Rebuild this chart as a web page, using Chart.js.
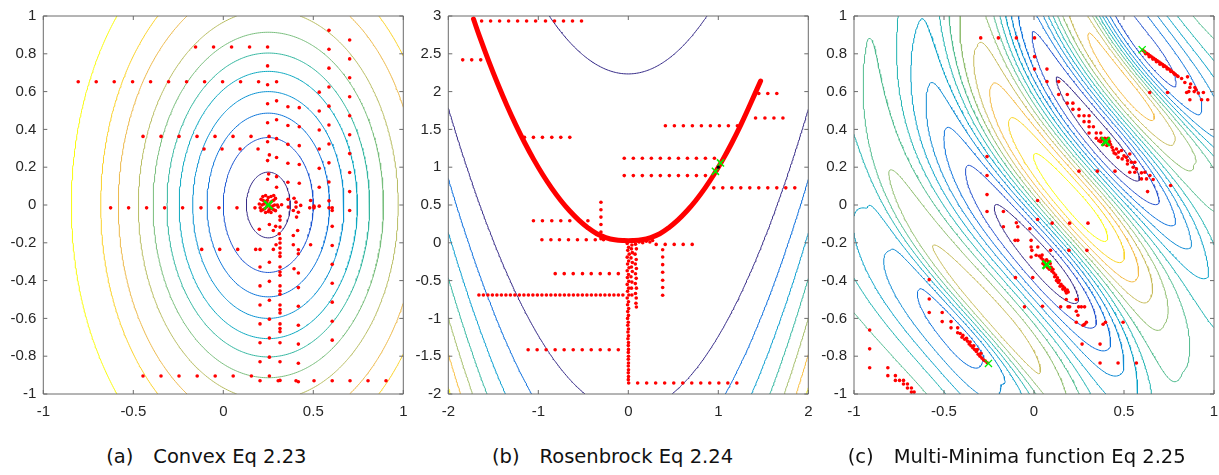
<!DOCTYPE html>
<html>
<head>
<meta charset="utf-8">
<title>Optimiser traces on three test functions</title>
<script src="https://cdn.jsdelivr.net/npm/chart.js@4.4.1/dist/chart.umd.min.js"></script>
<style>
  html, body { margin: 0; padding: 0; background: #fff; overflow: hidden; }
  #wrap { position: relative; width: 1219px; height: 475px; }
  #wrap canvas { position: absolute; top: 0; }
  .caption {
    position: absolute; top: 445.5px; transform: translateX(-50%);
    font: 19.5px "DejaVu Sans", sans-serif; line-height: 22px; color: #111; white-space: pre;
  }
  .caption .tag { margin-right: 20px; }
</style>
</head>
<body>
<div id="wrap">
  <canvas id="convex" width="426" height="425" style="left:0px"></canvas>
  <canvas id="rosen" width="425" height="425" style="left:405px"></canvas>
  <canvas id="wave" width="420" height="425" style="left:810px"></canvas>
  <div class="caption" id="cap0" style="left:206.3px"></div>
  <div class="caption" id="cap1" style="left:612.5px"></div>
  <div class="caption" id="cap2" style="left:1016.7px"></div>
</div>
<script>
// ---------- text and ticks ----------
const captionTags = ['(a)', '(b)', '(c)'];
const captionTexts = ['Convex Eq 2.23', 'Rosenbrock Eq 2.24', 'Multi-Minima function Eq 2.25'];
const unitTicksX = [-1, -0.5, 0, 0.5, 1];
const unitTicksY = [-1, -0.8, -0.6, -0.4, -0.2, 0, 0.2, 0.4, 0.6, 0.8, 1];
const rosenTicksX = [-2, -1, 0, 1, 2];
const rosenTicksY = [-2, -1.5, -1, -0.5, 0, 0.5, 1, 1.5, 2, 2.5, 3];

// ---------- (a) convex bowl ----------
const convexCentre = [0.25, 0];
const convexAspect = 0.7;   // x half-axis over y half-axis
const convexLevels = [0.174, 0.357, 0.486, 0.6, 0.707, 0.804, 0.914, 1.031, 1.19, 1.33, 1.563];
const convexBest = [[0.25, 0.0]];
const convexDots = [
  [-0.154,0.836],[-0.054,0.836],[0.046,0.836],[0.146,0.836],[0.246,0.836],[0.246,0.736],
  [-0.806,0.652],[-0.706,0.652],[-0.606,0.652],[-0.504,0.652],[-0.404,0.652],[-0.304,0.652],
  [-0.204,0.652],[-0.104,0.652],[-0.004,0.652],[0.096,0.652],[0.196,0.652],[0.296,0.652],[0.246,0.636],
  [-0.446,0.363],[-0.346,0.363],[-0.246,0.363],[-0.146,0.363],[-0.046,0.363],[0.054,0.363],[0.154,0.363],[0.254,0.363],
  [-0.107,0.296],[-0.007,0.296],[0.093,0.296],[0.193,0.296],
  [0.246,0.536],[0.246,0.435],[0.246,0.335],[0.256,0.265],[0.246,0.235],[0.252,0.164],[0.246,0.136],
  [0.296,0.551],[0.296,0.451],[0.296,0.351],[0.296,0.251],[0.296,0.15],[0.296,0.094],
  [0.359,0.52],[0.359,0.421],[0.359,0.321],[0.359,0.221],[0.359,0.12],
  [0.422,0.515],[0.422,0.414],[0.422,0.314],[0.422,0.214],[0.422,0.115],
  [0.533,0.597],[0.533,0.497],[0.533,0.397],[0.533,0.296],[0.533,0.194],[0.533,0.094],
  [0.587,0.924],[0.587,0.824],[0.587,0.724],[0.587,0.624],[0.587,0.523],[0.587,0.423],[0.587,0.323],[0.587,0.223],[0.587,0.122],[0.587,0.022],
  [0.702,0.873],[0.702,0.773],[0.702,0.673],[0.702,0.573],[0.702,0.472],[0.702,0.372],[0.702,0.272],[0.702,0.172],[0.702,0.071],[0.702,-0.029],
  [-0.626,-0.015],[-0.526,-0.015],[-0.426,-0.015],[-0.326,-0.015],[-0.226,-0.015],[-0.124,-0.015],[-0.024,-0.015],[0.076,-0.015],[0.176,-0.015],
  [0.324,0.001],[0.361,-0.011],[0.404,-0.011],[0.404,0.015],[0.43,-0.002],[0.48,-0.015],[0.504,-0.015],[0.504,-0.006],
  [0.533,-0.006],[0.587,-0.015],[0.605,-0.015],[0.605,-0.029],[0.389,-0.029],[0.417,-0.038],[0.407,-0.064],[0.485,0.024],[0.393,0.036],[0.36,0.03],
  [0.2,-0.128],[0.256,-0.103],[0.278,-0.135],[0.291,-0.113],[0.315,-0.117],[0.311,-0.152],[0.315,-0.178],[0.293,-0.21],[0.315,-0.201],
  [0.389,-0.161],[0.413,-0.135],[0.389,-0.21],[0.417,-0.237],[0.485,-0.21],[0.315,-0.06],[0.315,-0.08],
  [-0.12,-0.235],[-0.02,-0.235],[0.08,-0.235],[0.18,-0.235],[0.204,-0.235],[0.278,-0.235],
  [0.315,-0.228],[0.315,-0.254],[0.315,-0.272],[0.315,-0.328],[0.315,-0.355],[0.315,-0.372],[0.315,-0.428],[0.315,-0.455],[0.315,-0.472],
  [0.315,-0.529],[0.315,-0.553],[0.315,-0.571],[0.315,-0.629],[0.315,-0.654],[0.315,-0.671],[0.315,-0.729],[0.315,-0.829],
  [0.256,-0.303],[0.256,-0.404],[0.256,-0.504],[0.256,-0.604],[0.256,-0.704],[0.256,-0.805],
  [0.204,-0.328],[0.204,-0.428],[0.204,-0.529],[0.204,-0.629],[0.204,-0.729],[0.204,-0.829],
  [0.417,-0.258],[0.417,-0.36],[0.417,-0.437],[0.417,-0.536],[0.417,-0.636],[0.417,-0.736],[0.417,-0.837],[0.393,-0.337],
  [0.605,-0.113],[0.605,-0.214],[0.605,-0.314],[0.605,-0.414],[0.605,-0.514],[0.605,-0.615],[0.605,-0.715],
  [-0.446,-0.905],[-0.346,-0.905],[-0.246,-0.905],[-0.145,-0.905],[-0.045,-0.905],[0.055,-0.905],[0.156,-0.905],[0.256,-0.905],
  [0.204,-0.93],[0.305,-0.93],[0.315,-0.928],[0.404,-0.93],[0.417,-0.935],[0.504,-0.93],[0.605,-0.93],[0.704,-0.93],[0.804,-0.93],[0.904,-0.93],
  [0.21,0.03],[0.22,0.025],[0.23,0.02],[0.24,0.01],[0.26,0.01],[0.27,0.02],[0.28,0.025],[0.29,0.035],
  [0.21,-0.03],[0.22,-0.025],[0.23,-0.02],[0.24,-0.01],[0.26,-0.01],[0.27,-0.02],[0.28,-0.025],[0.29,-0.03],
  [0.215,0.0],[0.225,0.005],[0.275,-0.005],[0.285,0.0],[0.25,0.04],[0.25,-0.035],[0.245,0.025],[0.255,-0.025],
  [0.2,0.005],[0.3,0.0],[0.235,0.05],[0.265,0.045],[0.235,-0.04],[0.265,-0.04],[0.205,-0.015],[0.305,-0.01],[0.22,0.045],[0.28,0.05]
];

// ---------- (b) Rosenbrock ----------
const rosenLevels = [500, 1000, 1500, 2000, 2500, 3000, 3500];
const rosenPathX = [-1.72, -1.65, -1.55, -1.45, -1.35, -1.25, -1.15, -1.05, -0.95, -0.85, -0.75, -0.65, -0.55, -0.45, -0.35, -0.25,
  -0.15, -0.05, 0.05, 0.15, 0.25, 0.35, 0.45, 0.55, 0.65, 0.75, 0.85, 0.95, 1.05, 1.15, 1.25, 1.35, 1.47];
const rosenPathY = [2.96, 2.72, 2.40, 2.10, 1.82, 1.56, 1.32, 1.10, 0.90, 0.72, 0.56, 0.42, 0.30, 0.20, 0.12, 0.07,
  0.04, 0.03, 0.03, 0.04, 0.07, 0.12, 0.20, 0.30, 0.42, 0.56, 0.72, 0.90, 1.10, 1.32, 1.56, 1.82, 2.14];
const rosenBest = [[0.968, 0.946], [1.024, 1.056]];
const rosenTrue = [[1.0, 1.0]];
const rosenDots = [
  [-1.63,2.934],[-1.53,2.934],[-1.43,2.934],[-1.33,2.934],[-1.23,2.934],[-1.13,2.934],[-1.03,2.934],[-0.92,2.934],[-0.82,2.934],[-0.72,2.934],[-0.62,2.934],[-0.52,2.934],
  [-1.84,2.42],[-1.74,2.42],[-1.64,2.42],
  [-1.154,1.395],[-1.054,1.395],[-0.954,1.395],[-0.85,1.395],[-0.75,1.395],[-0.65,1.395],
  [-0.045,1.118],[0.056,1.118],[0.156,1.118],[0.256,1.118],[0.356,1.118],[0.456,1.118],[0.557,1.118],[0.657,1.118],[0.757,1.118],[0.857,1.118],[0.957,1.118],
  [-0.045,0.889],[0.056,0.889],[0.156,0.889],[0.256,0.889],[0.356,0.889],[0.456,0.889],[0.557,0.889],[0.657,0.889],[0.757,0.889],[0.857,0.889],
  [0.95,0.727],[1.05,0.727],[1.15,0.727],[1.25,0.727],[1.35,0.727],[1.45,0.727],[1.55,0.727],[1.65,0.727],[1.75,0.727],[1.85,0.727],
  [0.412,1.549],[0.512,1.549],[0.612,1.549],[0.712,1.549],[0.812,1.549],[0.912,1.549],[1.012,1.549],[1.112,1.549],[1.212,1.549],
  [1.414,1.65],[1.518,1.65],[1.618,1.65],[1.718,1.65],
  [1.45,1.975],[1.55,1.975],[1.65,1.975],
  [-1.054,0.291],[-0.954,0.291],[-0.85,0.291],[-0.75,0.291],[-0.65,0.291],[-0.549,0.291],[-0.449,0.291],
  [-0.304,0.537],[-0.304,0.437],[-0.304,0.34],[-0.304,0.243],[-0.304,0.142],[-0.304,0.055],
  [-0.96,0.041],[-0.86,0.041],[-0.765,0.041],[-0.665,0.041],[-0.565,0.041],[-0.467,0.041],[-0.367,0.041],[-0.275,0.041],
  [0.31,-0.021],[0.41,-0.021],[0.51,-0.021],[0.61,-0.021],[0.71,-0.021],
  [0.382,-0.091],[0.382,-0.188],[0.382,-0.289],[0.382,-0.39],[0.382,-0.496],[0.382,-0.592],[0.382,-0.694],
  [-0.812,-0.408],[-0.712,-0.408],[-0.612,-0.408],[-0.509,-0.408],[-0.412,-0.408],[-0.312,-0.408],[-0.211,-0.408],[-0.111,-0.408],
  [-1.66,-0.69],[-1.61,-0.69],[-1.56,-0.69],[-1.51,-0.69],[-1.46,-0.69],[-1.41,-0.69],[-1.36,-0.69],[-1.31,-0.69],[-1.26,-0.69],
  [-1.21,-0.69],[-1.16,-0.69],[-1.11,-0.69],[-1.06,-0.69],[-1.01,-0.69],[-0.96,-0.69],[-0.91,-0.69],[-0.86,-0.69],[-0.81,-0.69],
  [-0.76,-0.69],[-0.71,-0.69],[-0.66,-0.69],[-0.61,-0.69],[-0.56,-0.69],[-0.51,-0.69],[-0.46,-0.69],[-0.41,-0.69],[-0.36,-0.69],
  [-0.31,-0.69],[-0.26,-0.69],[-0.21,-0.69],[-0.16,-0.69],[-0.11,-0.69],[-0.06,-0.69],
  [-1.113,-1.415],[-1.013,-1.415],[-0.913,-1.415],[-0.813,-1.415],[-0.713,-1.415],[-0.612,-1.415],[-0.512,-1.415],[-0.412,-1.415],[-0.312,-1.415],[-0.212,-1.415],[-0.111,-1.415],
  [0.004,-1.855],[0.104,-1.855],[0.204,-1.855],[0.304,-1.855],[0.404,-1.855],[0.505,-1.855],[0.605,-1.855],[0.705,-1.855],[0.805,-1.855],[0.905,-1.855],[1.006,-1.855],[1.106,-1.855],[1.206,-1.855],
  [-0.012,-0.01],[0.004,-0.06],[-0.006,-0.1],[0.01,-0.15],[-0.012,-0.19],[0.004,-0.24],[-0.008,-0.28],[0.008,-0.33],[-0.012,-0.37],[0.002,-0.42],
  [-0.01,-0.46],[0.006,-0.51],[-0.012,-0.55],[0.004,-0.6],[-0.008,-0.64],[0.006,-0.69],[-0.012,-0.73],[0.002,-0.78],[-0.008,-0.82],[0.004,-0.87],
  [-0.006,-0.91],[0.002,-0.96],[-0.008,-1.0],[0.0,-1.05],[-0.006,-1.09],[0.002,-1.14],[-0.004,-1.18],[0.002,-1.23],[-0.004,-1.27],[0.002,-1.32],
  [0.0,-1.36],[0.002,-1.41],[0.0,-1.45],[0.002,-1.5],[0.0,-1.54],[0.002,-1.59],[0.0,-1.63],[0.002,-1.68],[0.0,-1.72],[0.002,-1.77],[0.0,-1.81],
  [0.08,-0.02],[0.09,-0.08],[0.075,-0.15],[0.088,-0.22],[0.078,-0.28],[0.09,-0.34],[0.08,-0.41],[0.088,-0.47],[0.078,-0.54],[0.09,-0.6],
  [0.08,-0.67],[0.088,-0.73],[0.085,-0.8],[0.09,-0.85],
  [0.04,-0.03],[0.035,-0.08],[0.045,-0.13],[0.03,-0.2],[0.045,-0.26],[0.035,-0.32],[0.045,-0.38],[0.03,-0.45],[0.04,-0.52],[0.035,-0.6],[0.04,-0.69],
  [0.12,0.01],[0.16,0.0],[0.2,0.02],[0.24,0.01],[0.27,0.03]
];

// ---------- (c) multi-minima ----------
// ridges and valleys run across the normal direction; each row describes one crest or trough
const waveCentre = [0.25, -0.015];
const waveNormal = [0.731, 0.683];
const waveBend = 0.16;           // crests turn steeper away from the middle
const waveSkew = [1.3, 0.8];     // reach towards upper-left, towards lower-right
const stripeAt = [-1.35, -0.944, -0.742, -0.336, 0.0, 0.347, 0.626, 0.828, 1.2];
const stripeAmp = [0.12, -0.65, 0.5, -1.0, 1.0, -1.0, 0.66, -0.8, 0.12];
const stripeShift = [0.2, 0.03, 0.149, 0.098, 0.0, -0.15, -0.28, -0.345, -0.45];
const stripeLen = [1.1, 0.64, 0.91, 0.92, 0.81, 0.95, 0.68, 0.93, 1.0];
const waveLevels = [-0.88, -0.72, -0.56, -0.4, -0.24, -0.08, 0.08, 0.24, 0.4, 0.56, 0.72, 0.88];
const waveBestBold = [[0.071, -0.316], [0.398, 0.335]];
const waveBestThin = [[-0.253, -0.838], [0.601, 0.822]];
const waveDots = [
  [-0.296,0.884],[-0.198,0.884],[-0.098,0.884],[0.003,0.884],[0.003,0.785],[0.003,0.719],
  [0.072,0.719],[0.072,0.653],[0.137,0.653],[0.137,0.585],[0.185,0.585],[0.185,0.539],[0.216,0.539],[0.216,0.506],
  [0.25,0.506],[0.25,0.472],[0.278,0.472],[0.306,0.472],[0.278,0.441],[0.306,0.441],[0.306,0.414],[0.33,0.414],
  [0.306,0.381],[0.346,0.381],[0.371,0.381],[0.346,0.353],[0.374,0.353],[0.393,0.353],[0.411,0.353],
  [0.36,0.34],[0.37,0.335],[0.38,0.345],[0.39,0.33],[0.4,0.34],[0.41,0.325],[0.42,0.335],[0.385,0.32],[0.405,0.315],[0.415,0.345],[0.395,0.35],[0.425,0.32],
  [0.434,0.305],[0.445,0.275],[0.458,0.296],[0.486,0.288],[0.467,0.252],[0.49,0.244],[0.513,0.252],[0.532,0.27],[0.541,0.226],
  [0.519,0.217],[0.56,0.226],[0.551,0.2],[0.569,0.191],[0.532,0.173],[0.56,0.173],[0.597,0.17],[0.616,0.173],[0.644,0.156],
  [0.625,0.138],[0.597,0.138],[0.662,0.135],[0.631,0.071],[0.759,0.103],[0.25,0.179],[0.352,0.179],[0.45,0.179],
  [0.44,0.29],[0.455,0.27],[0.47,0.28],[0.5,0.26],[0.52,0.235],
  [0.605,0.818],[0.615,0.81],[0.625,0.803],[0.635,0.797],[0.645,0.79],[0.655,0.783],[0.665,0.776],[0.675,0.77],[0.685,0.763],[0.695,0.757],
  [0.705,0.75],[0.715,0.743],[0.725,0.737],[0.735,0.73],[0.745,0.722],[0.755,0.715],[0.765,0.708],[0.775,0.7],[0.785,0.692],[0.795,0.684],
  [0.62,0.8],[0.64,0.785],[0.66,0.772],[0.68,0.758],[0.7,0.745],[0.72,0.733],[0.74,0.72],[0.76,0.706],[0.78,0.693],[0.8,0.68],
  [0.82,0.669],[0.853,0.678],[0.838,0.648],[0.866,0.622],[0.894,0.622],[0.848,0.595],[0.913,0.592],[0.941,0.595],
  [0.866,0.557],[0.931,0.557],[0.965,0.557],[0.643,0.595],[0.742,0.595],[0.86,0.6],[0.89,0.6],[0.87,0.64],[0.9,0.61],
  [-0.261,0.256],[-0.261,0.156],[-0.261,0.055],[-0.261,-0.034],[-0.17,-0.034],[-0.17,-0.115],[-0.098,-0.094],[-0.09,-0.115],
  [-0.023,-0.126],[-0.105,-0.187],[-0.09,-0.187],[-0.016,-0.187],[-0.016,-0.222],[-0.012,-0.24],[-0.016,-0.275],
  [-0.103,-0.384],[-0.007,-0.384],[-0.053,-0.539],[0.02,0.024],[0.02,-0.077],
  [0.101,-0.096],[0.198,-0.096],[0.3,-0.096],[0.092,-0.24],[0.194,-0.24],[0.294,-0.24],
  [0.04,-0.28],[0.05,-0.29],[0.06,-0.3],[0.07,-0.29],[0.08,-0.3],[0.09,-0.31],[0.06,-0.32],[0.075,-0.33],[0.05,-0.31],[0.085,-0.34],
  [0.095,-0.33],[0.03,-0.27],[0.045,-0.265],[0.1,-0.35],[0.11,-0.36],[0.105,-0.34],[0.12,-0.37],[0.115,-0.38],[0.13,-0.385],[0.125,-0.4],
  [0.14,-0.4],[0.135,-0.41],[0.15,-0.42],[0.145,-0.43],[0.16,-0.43],[0.16,-0.445],[0.17,-0.44],[0.175,-0.455],[0.185,-0.45],[0.18,-0.465],
  [0.19,-0.46],[0.021,-0.222],[0.012,-0.266],
  [0.179,-0.5],[0.235,-0.5],[0.148,-0.539],[0.189,-0.539],[0.198,-0.539],[0.248,-0.539],[0.263,-0.539],[0.281,-0.539],
  [0.235,-0.562],[0.244,-0.583],[0.235,-0.62],[0.272,-0.636],[0.281,-0.631],[0.291,-0.62],[0.384,-0.631],[0.397,-0.62],[0.495,-0.62],
  [0.047,-0.536],[0.267,-0.736],[0.367,-0.736],[0.367,-0.836],[0.467,-0.836],[0.569,-0.836],
  [-0.582,-0.395],[-0.582,-0.497],[-0.582,-0.569],[-0.51,-0.569],[-0.51,-0.617],[-0.461,-0.617],[-0.461,-0.65],[-0.424,-0.65],[-0.424,-0.676],
  [-0.41,-0.68],[-0.4,-0.7],[-0.385,-0.71],[-0.37,-0.72],[-0.36,-0.735],[-0.35,-0.745],[-0.34,-0.755],[-0.33,-0.765],[-0.32,-0.775],
  [-0.31,-0.79],[-0.3,-0.8],[-0.29,-0.81],[-0.28,-0.82],[-0.27,-0.825],[-0.26,-0.835],
  [-0.395,-0.69],[-0.375,-0.705],[-0.355,-0.725],[-0.335,-0.745],[-0.315,-0.765],[-0.295,-0.785],
  [-0.913,-0.661],[-0.913,-0.761],[-0.913,-0.861],[-0.812,-0.861],[-0.812,-0.903],[-0.77,-0.903],[-0.77,-0.928],[-0.747,-0.928],
  [-0.725,-0.928],[-0.725,-0.947],[-0.703,-0.947],[-0.703,-0.968],[-0.681,-0.968],[-0.681,-0.99],[-0.666,-0.99]
];

// ---------- colour map (parula key colours) ----------
const parulaStops = [
  [0.000, 0.2081, 0.1663, 0.5292], [0.079, 0.1707, 0.2919, 0.7792], [0.127, 0.0117, 0.3875, 0.8820],
  [0.238, 0.0779, 0.5040, 0.8384], [0.333, 0.0265, 0.6137, 0.8135], [0.429, 0.0590, 0.6838, 0.7254],
  [0.524, 0.2586, 0.7317, 0.5954], [0.619, 0.5300, 0.7491, 0.4661], [0.714, 0.7525, 0.7384, 0.3768],
  [0.810, 0.9450, 0.7261, 0.2886], [0.857, 0.9990, 0.7653, 0.2164], [0.937, 0.9626, 0.8705, 0.1309],
  [1.000, 0.9763, 0.9831, 0.0538]
];

function parula(t) {
  let k = 1;
  while (k < parulaStops.length - 1 && parulaStops[k][0] < t) k++;
  const a = parulaStops[k - 1], b = parulaStops[k];
  const f = Math.min(1, Math.max(0, (t - a[0]) / (b[0] - a[0])));
  const c = [1, 2, 3].map(i => Math.round(255 * (a[i] + f * (b[i] - a[i]))));
  return `rgb(${c[0]},${c[1]},${c[2]})`;
}

// ---------- surfaces ----------
function convexBowl(x, y) {
  const dx = (x - convexCentre[0]) / convexAspect, dy = y - convexCentre[1];
  return Math.sqrt(dx * dx + dy * dy);
}

function rosenbrock(x, y) {
  return (1 - x) * (1 - x) + 100 * (y - x * x) * (y - x * x);
}

// crest/trough height, sideways offset and reach at a given across-position
function stripeProfile(v) {
  const n = stripeAt.length;
  if (v <= stripeAt[0]) return [stripeAmp[0], stripeShift[0], stripeLen[0]];
  if (v >= stripeAt[n - 1]) return [stripeAmp[n - 1], stripeShift[n - 1], stripeLen[n - 1]];
  let k = 0;
  while (stripeAt[k + 1] < v) k++;
  const s = (v - stripeAt[k]) / (stripeAt[k + 1] - stripeAt[k]);
  const w = (1 - Math.cos(Math.PI * s)) / 2;
  return [
    stripeAmp[k] + w * (stripeAmp[k + 1] - stripeAmp[k]),
    stripeShift[k] + s * (stripeShift[k + 1] - stripeShift[k]),
    stripeLen[k] + s * (stripeLen[k + 1] - stripeLen[k])
  ];
}

function multiMinima(x, y) {
  const dx = x - waveCentre[0], dy = y - waveCentre[1];
  const u = waveNormal[1] * dx - waveNormal[0] * dy;
  const v = waveNormal[0] * dx + waveNormal[1] * dy + waveBend * u * u * u;
  const [amp, shift, len] = stripeProfile(v);
  const d = u - shift;
  const reach = len * (d < 0 ? waveSkew[0] : waveSkew[1]);
  return amp * Math.exp(-(d * d) / (reach * reach));
}

// ---------- marching squares ----------
function sampleGrid(fn, xr, yr, n) {
  const dx = (xr[1] - xr[0]) / n, dy = (yr[1] - yr[0]) / n;
  const z = [];
  for (let j = 0; j <= n; j++) {
    const row = new Float64Array(n + 1);
    for (let i = 0; i <= n; i++) row[i] = fn(xr[0] + i * dx, yr[0] + j * dy);
    z.push(row);
  }
  return { z, n, x0: xr[0], y0: yr[0], dx, dy };
}

function traceLevel(g, level) {
  const { z, n, x0, y0, dx, dy } = g;
  const pts = new Map();
  const adj = new Map();
  const val = (i, j) => z[j][i] - level;

  // crossing point on an edge between two grid nodes
  function edge(key, i0, j0, i1, j1) {
    if (!pts.has(key)) {
      const a = val(i0, j0), b = val(i1, j1);
      const t = a / (a - b);
      pts.set(key, { x: x0 + (i0 + t * (i1 - i0)) * dx, y: y0 + (j0 + t * (j1 - j0)) * dy });
    }
    return key;
  }
  function link(a, b) {
    if (!adj.has(a)) adj.set(a, []);
    if (!adj.has(b)) adj.set(b, []);
    adj.get(a).push(b);
    adj.get(b).push(a);
  }

  for (let j = 0; j < n; j++) {
    for (let i = 0; i < n; i++) {
      const c = [val(i, j) > 0, val(i + 1, j) > 0, val(i + 1, j + 1) > 0, val(i, j + 1) > 0];
      if (c[0] === c[1] && c[1] === c[2] && c[2] === c[3]) continue;
      const E = [
        c[0] !== c[1] ? edge(`h${i},${j}`, i, j, i + 1, j) : null,
        c[1] !== c[2] ? edge(`v${i + 1},${j}`, i + 1, j, i + 1, j + 1) : null,
        c[2] !== c[3] ? edge(`h${i},${j + 1}`, i, j + 1, i + 1, j + 1) : null,
        c[3] !== c[0] ? edge(`v${i},${j}`, i, j, i, j + 1) : null
      ];
      const hits = E.filter(e => e !== null);
      if (hits.length === 2) {
        link(hits[0], hits[1]);
      } else {
        // saddle: cut off the corners that disagree with the cell centre
        const centre = (val(i, j) + val(i + 1, j) + val(i + 1, j + 1) + val(i, j + 1)) / 4 > 0;
        if (c[0] !== centre) link(E[3], E[0]);
        if (c[1] !== centre) link(E[0], E[1]);
        if (c[2] !== centre) link(E[1], E[2]);
        if (c[3] !== centre) link(E[2], E[3]);
      }
    }
  }

  const seen = new Set();
  const out = [];
  function walk(start) {
    const line = [start];
    seen.add(start);
    let prev = null, cur = start;
    for (;;) {
      const next = adj.get(cur).find(k => k !== prev && !seen.has(k));
      if (next === undefined) {
        if (line.length > 2 && adj.get(cur).includes(start)) line.push(start);
        break;
      }
      seen.add(next);
      line.push(next);
      prev = cur;
      cur = next;
    }
    line.forEach(k => out.push(pts.get(k)));
    out.push({ x: pts.get(cur).x, y: null });
  }
  for (const [k, nb] of adj) if (nb.length === 1 && !seen.has(k)) walk(k);
  for (const k of adj.keys()) if (!seen.has(k)) walk(k);
  return out;
}

function contourSets(fn, xr, yr, levels, n) {
  const g = sampleGrid(fn, xr, yr, n);
  return levels.map((lv, i) => ({
    type: 'line',
    data: traceLevel(g, lv),
    borderColor: parula(i / (levels.length - 1)),
    borderWidth: 1,
    pointRadius: 0,
    tension: 0,
    spanGaps: false,
    order: 3
  }));
}

const toXY = list => list.map(([x, y]) => ({ x, y }));

function dotSet(list) {
  return { type: 'scatter', data: toXY(list), pointRadius: 1.8, pointBackgroundColor: '#ff0000', pointBorderWidth: 0, order: 2 };
}

function crossSet(list, radius, width) {
  return { type: 'scatter', data: toXY(list), pointStyle: 'crossRot', pointRadius: radius,
    pointBorderColor: '#00ee00', pointBorderWidth: width, order: 1 };
}

// ---------- axes box with inward ticks ----------
const boxFrame = {
  id: 'boxFrame',
  afterDatasetsDraw(chart) {
    const { ctx, chartArea: a, scales: { x, y } } = chart;
    const len = 4;
    ctx.save();
    ctx.strokeStyle = '#6b6b6b';
    ctx.lineWidth = 1;
    ctx.beginPath();
    ctx.rect(a.left, a.top, a.right - a.left, a.bottom - a.top);
    x.ticks.forEach(t => {
      const p = x.getPixelForValue(t.value);
      ctx.moveTo(p, a.bottom); ctx.lineTo(p, a.bottom - len);
      ctx.moveTo(p, a.top); ctx.lineTo(p, a.top + len);
    });
    y.ticks.forEach(t => {
      const p = y.getPixelForValue(t.value);
      ctx.moveTo(a.left, p); ctx.lineTo(a.left + len, p);
      ctx.moveTo(a.right, p); ctx.lineTo(a.right - len, p);
    });
    ctx.stroke();
    ctx.restore();
  }
};

const tickFont = { family: '"Liberation Sans", Arial, sans-serif', size: 15 };

function drawPanel(id, p) {
  const axis = (ticks, padding, fit) => ({
    type: 'linear',
    min: ticks[0],
    max: ticks[ticks.length - 1],
    grid: { display: false, drawTicks: false },
    border: { display: false },
    afterBuildTicks: s => { s.ticks = ticks.map(v => ({ value: v })); },
    afterFit: fit,
    ticks: { autoSkip: false, maxRotation: 0, minRotation: 0, padding, color: '#262626', font: tickFont,
      callback: v => String(v) }
  });
  return new Chart(document.getElementById(id), {
    type: 'scatter',
    data: { datasets: p.datasets },
    options: {
      responsive: false,
      animation: false,
      events: [],
      layout: { padding: { top: 15, right: p.padRight, left: 0, bottom: 0 } },
      plugins: { legend: { display: false }, tooltip: { enabled: false } },
      scales: {
        x: axis(p.xTicks, 9, s => { s.height = 31; }),
        y: axis(p.yTicks, 7, s => { s.width = p.axisLeft; })
      }
    },
    plugins: [boxFrame]
  });
}

drawPanel('convex', {
  xTicks: unitTicksX, yTicks: unitTicksY, axisLeft: 43.3, padRight: 22.7,
  datasets: [
    ...contourSets(convexBowl, [-1, 1], [-1, 1], convexLevels, 180),
    dotSet(convexDots),
    crossSet(convexBest, 6, 2.2)
  ]
});

drawPanel('rosen', {
  xTicks: rosenTicksX, yTicks: rosenTicksY, axisLeft: 43.3, padRight: 21.7,
  datasets: [
    ...contourSets(rosenbrock, [-2, 2], [-2, 3], rosenLevels, 220),
    { type: 'line', data: rosenPathX.map((x, i) => ({ x, y: rosenPathY[i] })), borderColor: '#ff0000',
      borderWidth: 5, borderCapStyle: 'round', pointRadius: 0, tension: 0.4, order: 2 },
    dotSet(rosenDots),
    { type: 'scatter', data: toXY(rosenTrue), pointRadius: 1.6, pointBackgroundColor: '#000', pointBorderWidth: 0, order: 1 },
    crossSet(rosenBest, 5, 1.6)
  ]
});

drawPanel('wave', {
  xTicks: unitTicksX, yTicks: unitTicksY, axisLeft: 44, padRight: 16,
  datasets: [
    ...contourSets(multiMinima, [-1, 1], [-1, 1], waveLevels, 240),
    dotSet(waveDots),
    crossSet(waveBestBold, 6, 2.4),
    crossSet(waveBestThin, 5, 1.3)
  ]
});

captionTags.forEach((tag, i) => {
  const el = document.getElementById('cap' + i);
  const span = document.createElement('span');
  span.className = 'tag';
  span.textContent = tag;
  el.appendChild(span);
  el.appendChild(document.createTextNode(captionTexts[i]));
});
</script>
</body>
</html>
